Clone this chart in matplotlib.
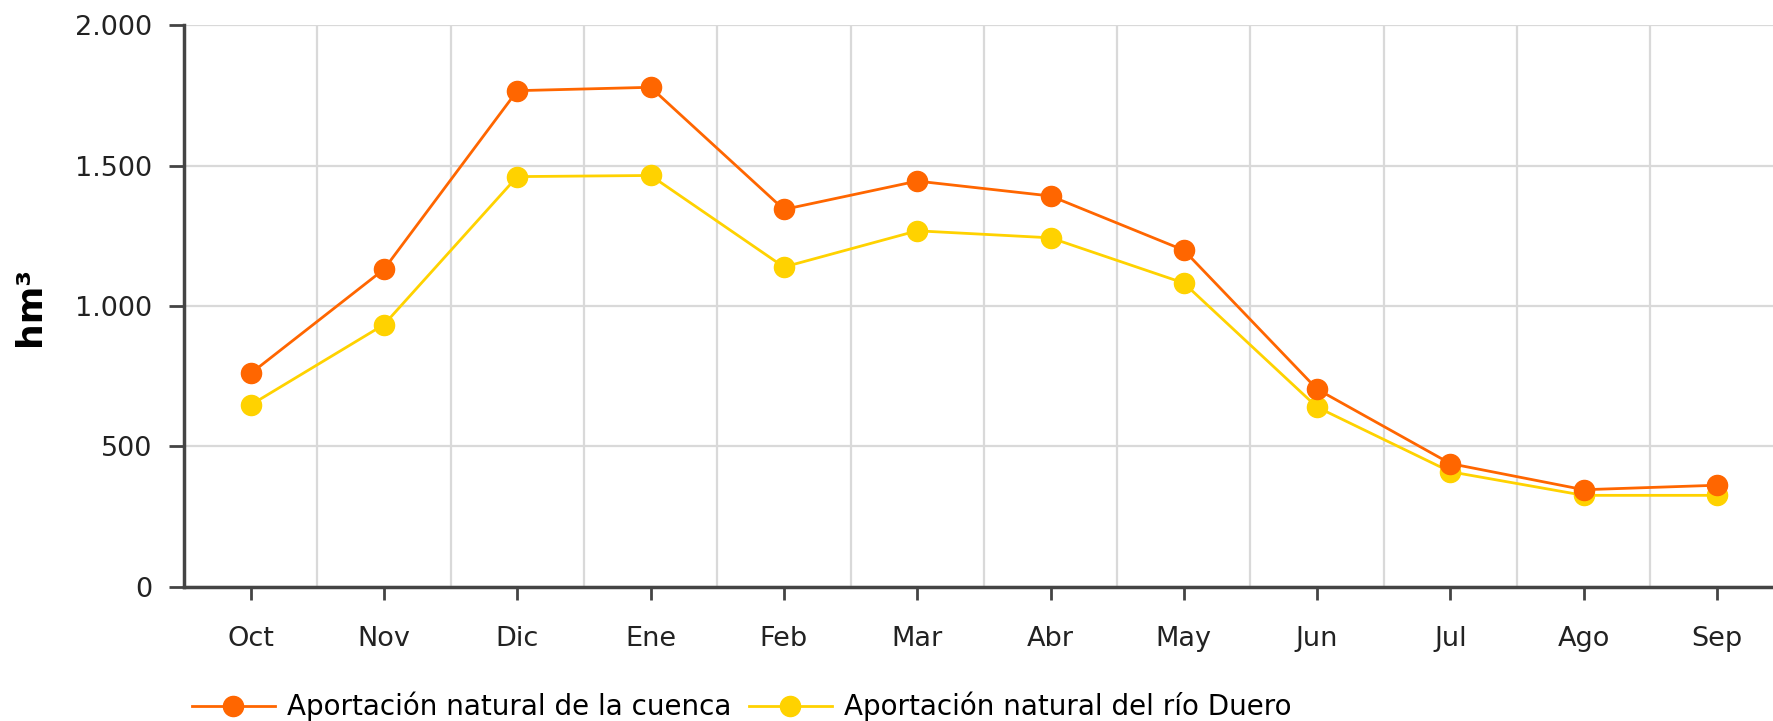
import numpy as np
import matplotlib.pyplot as plt
from matplotlib.ticker import FuncFormatter, MultipleLocator

months = ["Oct", "Nov", "Dic", "Ene", "Feb", "Mar", "Abr", "May", "Jun", "Jul", "Ago", "Sep"]
cuenca = [760, 1131, 1767, 1779, 1344, 1445, 1392, 1199, 704, 439, 346, 362]
duero = [648, 934, 1461, 1465, 1139, 1268, 1243, 1082, 640, 410, 326, 326]

ORANGE = "#FF6600"
YELLOW = "#FFD200"

plt.rcParams["font.family"] = "DejaVu Sans"

fig = plt.figure(figsize=(17.73, 7.21), dpi=100)
ax = fig.add_axes([0.1038, 0.186, 0.8962, 0.779])

x = np.arange(len(months))
l1, = ax.plot(x, cuenca, color=ORANGE, lw=2, marker="o", ms=14.5, mec=ORANGE, zorder=4,
              label="Aportación natural de la cuenca")
l2, = ax.plot(x, duero, color=YELLOW, lw=2, marker="o", ms=14.5, mec=YELLOW, zorder=3,
              label="Aportación natural del río Duero")

ax.set_xlim(-0.5, 11.42)
ax.set_ylim(0, 2000)
ax.set_xticks(x)
ax.set_xticklabels(months)
ax.set_xticks(np.arange(0.5, 11.5, 1), minor=True)
ax.yaxis.set_major_locator(MultipleLocator(500))
ax.yaxis.set_major_formatter(FuncFormatter(lambda v, p: f"{int(v):,}".replace(",", ".")))

ax.grid(True, axis="y", which="major", color="#d9d9d9", lw=1.6)
ax.grid(True, axis="x", which="minor", color="#d9d9d9", lw=1.6)
ax.set_axisbelow(True)

for s in ["top", "right"]:
    ax.spines[s].set_visible(False)
for s in ["left", "bottom"]:
    ax.spines[s].set_color("#444444")
    ax.spines[s].set_linewidth(2.5)

ax.tick_params(axis="y", which="major", length=11, width=2, color="#444444",
               labelsize=19.5, labelcolor="#222222", pad=12)
ax.tick_params(axis="x", which="major", length=9, width=2, color="#444444",
               labelsize=19.5, labelcolor="#222222", pad=19)
ax.tick_params(axis="x", which="minor", length=0)

ax.set_ylabel("hm³", fontsize=26, fontweight="bold", labelpad=20)

fig.legend(handles=[l1, l2], loc="lower left", bbox_to_anchor=(0.094, -0.035), ncol=2,
           frameon=False, fontsize=20, handlelength=3.0, handletextpad=0.45,
           columnspacing=0.6, markerscale=1.0)

fig.savefig("out.png", dpi=100)
